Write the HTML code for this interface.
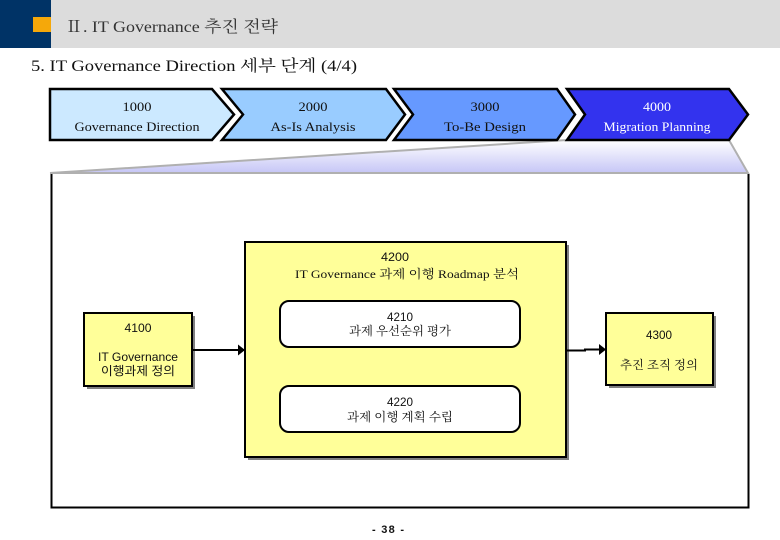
<!DOCTYPE html>
<html lang="ko"><head><meta charset="utf-8">
<style>
html,body{margin:0;padding:0;background:#fff;width:780px;height:540px;overflow:hidden}
svg{display:block}
text{font-family:"Liberation Serif","Noto Serif CJK KR","Noto Serif CJK SC",serif;fill:#111;text-anchor:middle;font-size:12px}
.sans{font-family:"Liberation Sans","Noto Sans CJK KR",sans-serif}
</style></head><body>
<svg width="780" height="540" viewBox="0 0 780 540" xmlns="http://www.w3.org/2000/svg">
<defs>
<linearGradient id="g" x1="0" y1="0" x2="0" y2="1"><stop offset="0" stop-color="#ffffff"/><stop offset="1" stop-color="#c6c6f6"/></linearGradient>
<marker id="a" markerWidth="8" markerHeight="11" refX="7" refY="5.5" orient="auto" markerUnits="userSpaceOnUse"><path d="M0,0L7,5.500L0,11Z" fill="#000"/></marker>
</defs>
<!-- header -->
<rect x="0" y="0" width="780" height="48" fill="#dcdcdc"/>
<rect x="0" y="0" width="51" height="48" fill="#003366"/>
<rect x="33" y="17" width="18" height="15" fill="#f5a80a"/>
<text x="171.500" y="32" style="font-size:16px;fill:#333" textLength="213" lengthAdjust="spacingAndGlyphs">Ⅱ. IT Governance 추진 전략</text>
<text x="194" y="71" style="font-size:16px" textLength="326" lengthAdjust="spacingAndGlyphs">5. IT Governance Direction 세부 단계 (4/4)</text>
<!-- trapezoid -->
<path d="M50,173L567,140L729,140L748,173Z" fill="url(#g)" stroke="#b0b0b0" stroke-width="2"/>
<!-- main box -->
<path d="M51.500,174V507.500H748.500V174" fill="none" stroke="#000" stroke-width="2"/>
<!-- chevrons -->
<path d="M50,89H212L234,114.500L212,140H50Z" fill="#cce9ff" stroke="#000" stroke-width="2.500"/>
<path d="M222,89H386L405,114.500L386,140H222L243,114.500Z" fill="#99ccff" stroke="#000" stroke-width="2.500"/>
<path d="M394,89H557L575,114.500L557,140H394L413,114.500Z" fill="#6699ff" stroke="#000" stroke-width="2.500"/>
<path d="M567,89H729L748,114.500L729,140H567L585,114.500Z" fill="#3333ee" stroke="#000" stroke-width="2.500"/>
<text x="137" y="111" style="font-size:13px" textLength="29" lengthAdjust="spacingAndGlyphs">1000</text>
<text x="137" y="131" style="font-size:13px" textLength="125" lengthAdjust="spacingAndGlyphs">Governance Direction</text>
<text x="313" y="111" style="font-size:13px" textLength="29" lengthAdjust="spacingAndGlyphs">2000</text>
<text x="313" y="131" style="font-size:13px" textLength="85" lengthAdjust="spacingAndGlyphs">As-Is Analysis</text>
<text x="485" y="111" style="font-size:13px" textLength="29" lengthAdjust="spacingAndGlyphs">3000</text>
<text x="485" y="131" style="font-size:13px" textLength="82" lengthAdjust="spacingAndGlyphs">To-Be Design</text>
<text x="657" y="111" style="font-size:13px;fill:#fff" textLength="28" lengthAdjust="spacingAndGlyphs">4000</text>
<text x="657" y="131" style="font-size:13px;fill:#fff" textLength="107" lengthAdjust="spacingAndGlyphs">Migration Planning</text>
<!-- 4100 -->
<rect x="87" y="316" width="108" height="73" fill="#808080"/>
<rect x="84" y="313" width="108" height="73" fill="#ffff99" stroke="#000" stroke-width="2"/>
<text class="sans" x="138" y="332" textLength="27" lengthAdjust="spacingAndGlyphs">4100</text>
<text class="sans" x="138" y="361" textLength="80" lengthAdjust="spacingAndGlyphs">IT Governance</text>
<text class="sans" x="138" y="375" textLength="74" lengthAdjust="spacingAndGlyphs">이행과제 정의</text>
<!-- 4200 -->
<rect x="248" y="245" width="321" height="215" fill="#808080"/>
<rect x="245" y="242" width="321" height="215" fill="#ffff99" stroke="#000" stroke-width="2"/>
<text class="sans" x="395" y="261" textLength="28" lengthAdjust="spacingAndGlyphs">4200</text>
<text x="407" y="278" textLength="224" lengthAdjust="spacingAndGlyphs">IT Governance 과제 이행 Roadmap 분석</text>
<rect x="280" y="301" width="240" height="46" rx="9" fill="#fff" stroke="#000" stroke-width="2"/>
<text class="sans" x="400" y="321" textLength="26" lengthAdjust="spacingAndGlyphs">4210</text>
<text x="400" y="335" textLength="102" lengthAdjust="spacingAndGlyphs">과제 우선순위 평가</text>
<rect x="280" y="386" width="240" height="46" rx="9" fill="#fff" stroke="#000" stroke-width="2"/>
<text class="sans" x="400" y="406" textLength="26" lengthAdjust="spacingAndGlyphs">4220</text>
<text x="400" y="421" textLength="106" lengthAdjust="spacingAndGlyphs">과제 이행 계획 수립</text>
<!-- 4300 -->
<rect x="609" y="316" width="107" height="72" fill="#808080"/>
<rect x="606" y="313" width="107" height="72" fill="#ffff99" stroke="#000" stroke-width="2"/>
<text class="sans" x="659" y="339" textLength="26" lengthAdjust="spacingAndGlyphs">4300</text>
<text x="659" y="369" textLength="78" lengthAdjust="spacingAndGlyphs">추진 조직 정의</text>
<!-- connectors (above the shadows) -->
<line x1="192" y1="350" x2="245" y2="350" stroke="#000" stroke-width="2" marker-end="url(#a)"/>
<path d="M566,350.500H585V349.500H606" fill="none" stroke="#000" stroke-width="2" marker-end="url(#a)"/>
<!-- page -->
<text class="sans" x="388" y="533" style="font-size:11px;font-weight:bold" textLength="32" lengthAdjust="spacing">- 38 -</text>
</svg>
</body></html>
